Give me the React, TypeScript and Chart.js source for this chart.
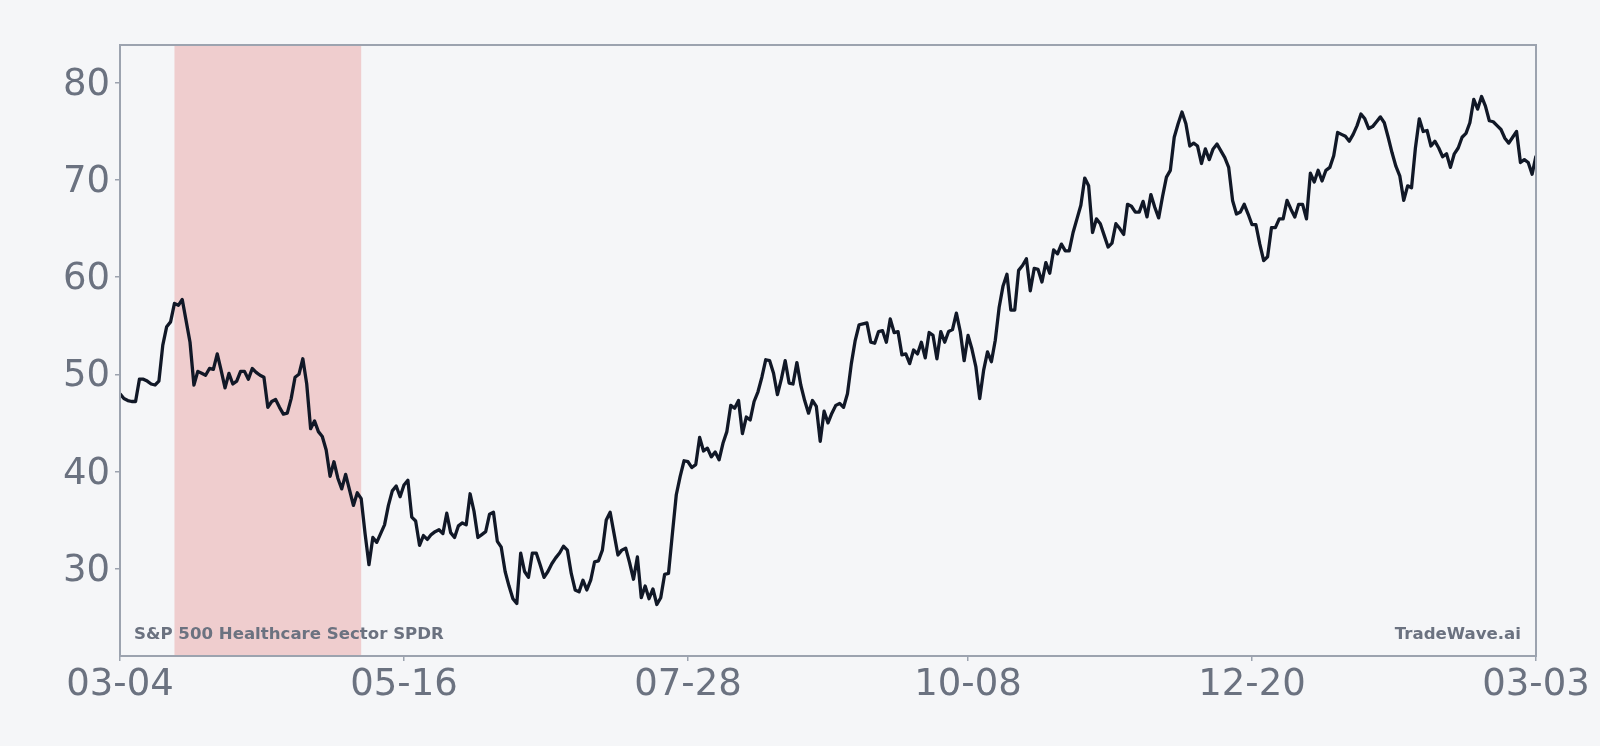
import React, { useEffect, useRef } from "react";
import { Chart, registerables } from "chart.js";

Chart.register(...registerables);

// Daily closing values, one per day from 03-04 (day 0) to 03-03 (day 364)
const valuesMarToMay = [
  48.0, 47.5, 47.3, 47.2, 47.2, 49.5, 49.5, 49.3, 49.0, 48.9,
  49.3, 53.0, 54.9, 55.4, 57.3, 57.1, 57.7, 55.5, 53.3, 48.9,
  50.3, 50.1, 49.9, 50.6, 50.5, 52.1, 50.4, 48.6, 50.1, 49.0,
  49.3, 50.3, 50.3, 49.5, 50.6, 50.2, 49.9, 49.7, 46.6, 47.2,
  47.4, 46.6, 45.9, 46.0, 47.5, 49.7, 50.0, 51.6, 49.0, 44.4,
  45.2, 44.1, 43.6, 42.2, 39.5, 41.0, 39.3, 38.2, 39.7, 38.1,
  36.5, 37.8, 37.2, 33.6, 30.4, 33.2, 32.7, 33.6, 34.5, 36.5,
  38.0, 38.5, 37.4,
];
const valuesMayToJul = [
  38.6, 39.1, 35.3, 34.9, 32.4, 33.4, 33.0,
  33.5, 33.8, 34.0, 33.6, 35.7, 33.7, 33.2, 34.4, 34.7, 34.5,
  37.7, 35.9, 33.2, 33.5, 33.8, 35.6, 35.8, 32.8, 32.2, 29.7,
  28.2, 26.9, 26.4, 31.6, 29.7, 29.1, 31.6, 31.6, 30.4, 29.1,
  29.7, 30.5, 31.1, 31.6, 32.3, 31.9, 29.5, 27.8, 27.6, 28.8,
  27.8, 28.8, 30.7, 30.8, 31.9, 35.0, 35.8, 33.6, 31.4, 31.9,
  32.1, 30.6, 28.9, 31.2, 27.0, 28.2, 26.9, 27.9, 26.3, 27.0,
  29.4, 29.5, 33.6, 37.6, 39.5, 41.1,
];
const valuesJulToOct = [
  41.0, 40.4, 40.7, 43.5,
  42.1, 42.4, 41.5, 42.0, 41.2, 42.9, 44.1, 46.8, 46.5, 47.3,
  43.9, 45.6, 45.3, 47.2, 48.2, 49.7, 51.5, 51.4, 50.1, 47.9,
  49.5, 51.4, 49.1, 49.0, 51.2, 48.9, 47.3, 46.0, 47.3, 46.7,
  43.1, 46.2, 45.0, 46.0, 46.8, 47.0, 46.6, 48.0, 51.1, 53.5,
  55.1, 55.2, 55.3, 53.3, 53.2, 54.4, 54.5, 53.3, 55.7, 54.3,
  54.4, 52.0, 52.1, 51.1, 52.5, 52.1, 53.3, 51.7, 54.3, 54.0,
  51.6, 54.4, 53.3, 54.4, 54.6, 56.3, 54.4, 51.4,
];
const valuesOctToDec = [
  54.0, 52.6,
  50.8, 47.5, 50.4, 52.3, 51.3, 53.5, 56.9, 59.1, 60.3, 56.6,
  56.6, 60.7, 61.2, 61.9, 58.6, 60.9, 60.8, 59.5, 61.5, 60.4,
  62.8, 62.4, 63.4, 62.7, 62.7, 64.6, 66.0, 67.4, 70.2, 69.4,
  64.6, 66.0, 65.5, 64.3, 63.1, 63.5, 65.5, 65.0, 64.4, 67.5,
  67.3, 66.7, 66.7, 67.8, 66.2, 68.5, 67.2, 66.1, 68.3, 70.3,
  71.0, 74.4, 75.8, 77.0, 75.8, 73.5, 73.8, 73.5, 71.7, 73.2,
  72.1, 73.2, 73.7, 73.0, 72.3, 71.3, 67.9, 66.5, 66.7, 67.5,
  66.5,
];
const valuesDecToMar = [
  65.4, 65.4, 63.4, 61.7, 62.1, 65.1, 65.1, 66.0, 66.0,
  67.9, 67.0, 66.2, 67.5, 67.5, 66.0, 70.7, 69.8, 71.0, 69.9,
  71.0, 71.3, 72.5, 74.9, 74.7, 74.5, 74.0, 74.7, 75.6, 76.8,
  76.3, 75.3, 75.5, 76.0, 76.5, 75.9, 74.4, 72.8, 71.4, 70.4,
  67.9, 69.4, 69.2, 73.3, 76.3, 75.0, 75.1, 73.5, 74.0, 73.3,
  72.4, 72.7, 71.3, 72.7, 73.3, 74.4, 74.8, 75.9, 78.3, 77.3,
  78.6, 77.6, 76.1, 76.0, 75.6, 75.2, 74.3, 73.8, 74.4, 75.0,
  71.8, 72.1, 71.8, 70.6, 72.5,
];

const values = [
  ...valuesMarToMay,
  ...valuesMayToJul,
  ...valuesJulToOct,
  ...valuesOctToDec,
  ...valuesDecToMar,
];

const xTickDays = [0, 73, 146, 218, 291, 364];
const xTickLabels = ["03-04", "05-16", "07-28", "10-08", "12-20", "03-03"];
const yTicks = [30, 40, 50, 60, 70, 80];
const shadeRange = [14, 62];
const yRange = [21.0, 83.9];
const seriesName = "S&P 500 Healthcare Sector SPDR";
const brandName = "TradeWave.ai";

const BG = "#f5f6f8";
const LINE = "#111827";
const AXIS = "#9ca3af";
const TEXT = "#6b7280";
const SHADE = "rgba(220, 60, 60, 0.22)";
const FONT = "DejaVu Sans";

export default function App() {
  const ref = useRef<HTMLCanvasElement>(null);

  useEffect(() => {
    const canvas = ref.current;
    if (!canvas) return;
    const points = values.map((v, i) => ({ x: i, y: v }));

    const decor = {
      id: "decor",
      beforeDraw(chart: any) {
        const { ctx, width, height } = chart;
        ctx.save();
        ctx.fillStyle = BG;
        ctx.fillRect(0, 0, width, height);
        ctx.restore();
      },
      beforeDatasetsDraw(chart: any) {
        const { ctx, chartArea: a, scales } = chart;
        const x0 = scales.x.getPixelForValue(shadeRange[0]);
        const x1 = scales.x.getPixelForValue(shadeRange[1]);
        ctx.save();
        ctx.fillStyle = SHADE;
        ctx.fillRect(x0, a.top, x1 - x0, a.bottom - a.top);
        ctx.restore();
      },
      afterDatasetsDraw(chart: any) {
        const { ctx, chartArea: a } = chart;
        ctx.save();
        ctx.strokeStyle = AXIS;
        ctx.lineWidth = 2;
        ctx.strokeRect(a.left, a.top, a.right - a.left, a.bottom - a.top);
        ctx.fillStyle = TEXT;
        ctx.font = `bold 16.6px "${FONT}"`;
        ctx.textBaseline = "alphabetic";
        ctx.textAlign = "left";
        ctx.fillText(seriesName, a.left + 14, a.bottom - 17);
        ctx.textAlign = "right";
        ctx.fillText(brandName, a.right - 15, a.bottom - 17);
        ctx.restore();
      },
    };

    const chart = new Chart(canvas, {
      type: "line",
      data: {
        datasets: [
          {
            label: seriesName,
            data: points,
            borderColor: LINE,
            borderWidth: 3.3,
            pointRadius: 0,
            tension: 0,
            borderJoinStyle: "round",
            fill: false,
          },
        ],
      },
      options: {
        animation: false,
        responsive: false,
        devicePixelRatio: 1,
        layout: { padding: { top: 45, right: 64, bottom: 0, left: 0 } },
        plugins: { legend: { display: false }, tooltip: { enabled: false } },
        scales: {
          x: {
            type: "linear",
            min: xTickDays[0],
            max: xTickDays[xTickDays.length - 1],
            afterBuildTicks: (s: any) => {
              s.ticks = xTickDays.map((v) => ({ value: v }));
            },
            afterFit: (s: any) => {
              s.height = 90;
              s.paddingLeft = 0;
              s.paddingRight = 0;
            },
            ticks: {
              autoSkip: false,
              maxRotation: 0,
              padding: 2,
              color: TEXT,
              font: { family: FONT, size: 37 },
              callback: (v: any) => {
                const i = xTickDays.indexOf(Number(v));
                return i >= 0 ? xTickLabels[i] : "";
              },
            },
            grid: {
              display: true,
              drawOnChartArea: false,
              drawTicks: true,
              tickLength: 5,
              color: AXIS,
              lineWidth: 1.5,
            },
            border: { display: true, color: AXIS, width: 2 },
          },
          y: {
            type: "linear",
            min: yRange[0],
            max: yRange[1],
            afterBuildTicks: (s: any) => {
              s.ticks = yTicks.map((v) => ({ value: v }));
            },
            afterFit: (s: any) => {
              s.width = 120;
              s.paddingTop = 0;
              s.paddingBottom = 0;
            },
            ticks: {
              padding: 5,
              labelOffset: 2.5,
              color: TEXT,
              font: { family: FONT, size: 37 },
            },
            grid: {
              display: true,
              drawOnChartArea: false,
              drawTicks: true,
              tickLength: 5,
              color: AXIS,
              lineWidth: 1.5,
            },
            border: { display: true, color: AXIS, width: 2 },
          },
        },
      },
      plugins: [decor],
    } as any);

    return () => chart.destroy();
  }, []);

  return (
    <div
      style={{
        position: "absolute",
        left: 0,
        top: 0,
        width: 1600,
        height: 746,
        background: BG,
      }}
    >
      <canvas ref={ref} width={1600} height={746} style={{ width: 1600, height: 746, display: "block" }} />
    </div>
  );
}
